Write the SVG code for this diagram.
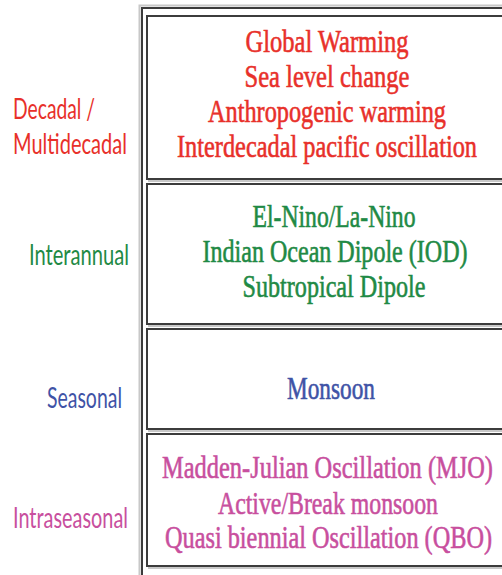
<svg xmlns="http://www.w3.org/2000/svg" width="502" height="575" viewBox="0 0 502 575">
<style>
.box{fill:#fff;stroke:#3c3c3c;stroke-width:2}
.shadow{fill:none;stroke:#c8c8c8;stroke-width:2}
.t{font-family:"Liberation Serif","Times New Roman",serif;font-size:24px;text-anchor:middle;stroke-width:0.45}
.l{font-family:"Lato","Open Sans","Liberation Sans",sans-serif;font-size:21px}
.red{fill:#e8302a;stroke:#e8302a}
.green{fill:#1f8a45;stroke:#1f8a45}
.blue{fill:#3f53a6;stroke:#3f53a6}
.pink{fill:#c84f9e;stroke:#c84f9e}
.l.red,.l.green,.l.blue,.l.pink{stroke:none}
</style>
<rect width="502" height="575" fill="#fff"/>
<g id="frame">
<rect class="shadow" x="139.5" y="5.5" width="400" height="600"/>
<rect x="142" y="8" width="400" height="600" fill="#fff" stroke="#3c3c3c" stroke-width="2"/>
</g>
<g id="connectors"></g>
<g id="decadal">
<rect class="shadow" x="149" y="18" width="400" height="163"/>
<rect class="box" x="147" y="16" width="400" height="163"/>
<text class="t red" transform="translate(327,52) scale(1,1.35)" textLength="163" lengthAdjust="spacingAndGlyphs">Global Warming</text>
<text class="t red" transform="translate(327,87) scale(1,1.35)" textLength="165" lengthAdjust="spacingAndGlyphs">Sea level change</text>
<text class="t red" transform="translate(327,122) scale(1,1.35)" textLength="238" lengthAdjust="spacingAndGlyphs">Anthropogenic warming</text>
<text class="t red" transform="translate(327,157) scale(1,1.35)" textLength="300" lengthAdjust="spacingAndGlyphs">Interdecadal pacific oscillation</text>
<text class="l red" transform="translate(13,119) scale(1,1.35)" textLength="82" lengthAdjust="spacingAndGlyphs">Decadal /</text>
<text class="l red" transform="translate(13,154) scale(1,1.35)" textLength="114" lengthAdjust="spacingAndGlyphs">Multidecadal</text>
</g>
<g id="interannual">
<rect class="shadow" x="149" y="186" width="400" height="140"/>
<rect class="box" x="147" y="184" width="400" height="140"/>
<text class="t green" transform="translate(334,227) scale(1,1.35)" textLength="163" lengthAdjust="spacingAndGlyphs">El-Nino/La-Nino</text>
<text class="t green" transform="translate(335,262) scale(1,1.35)" textLength="265" lengthAdjust="spacingAndGlyphs">Indian Ocean Dipole (IOD)</text>
<text class="t green" transform="translate(334,297) scale(1,1.35)" textLength="183" lengthAdjust="spacingAndGlyphs">Subtropical Dipole</text>
<text class="l green" transform="translate(29,265) scale(1,1.35)" textLength="100" lengthAdjust="spacingAndGlyphs">Interannual</text>
</g>
<g id="seasonal">
<rect class="shadow" x="149" y="331" width="400" height="100"/>
<rect class="box" x="147" y="329" width="400" height="100"/>
<text class="t blue" transform="translate(331,399) scale(1,1.35)" textLength="88" lengthAdjust="spacingAndGlyphs">Monsoon</text>
<text class="l blue" transform="translate(47,408) scale(1,1.35)" textLength="75" lengthAdjust="spacingAndGlyphs">Seasonal</text>
</g>
<g id="intraseasonal">
<rect class="shadow" x="149" y="436" width="400" height="132"/>
<rect class="box" x="147" y="434" width="400" height="132"/>
<text class="t pink" transform="translate(327.5,478) scale(1,1.35)" textLength="331" lengthAdjust="spacingAndGlyphs">Madden-Julian Oscillation (MJO)</text>
<text class="t pink" transform="translate(328,514) scale(1,1.35)" textLength="220" lengthAdjust="spacingAndGlyphs">Active/Break monsoon</text>
<text class="t pink" transform="translate(328.5,548) scale(1,1.35)" textLength="327" lengthAdjust="spacingAndGlyphs">Quasi biennial Oscillation (QBO)</text>
<text class="l pink" transform="translate(13,528) scale(1,1.35)" textLength="115" lengthAdjust="spacingAndGlyphs">Intraseasonal</text>
</g>
</svg>
